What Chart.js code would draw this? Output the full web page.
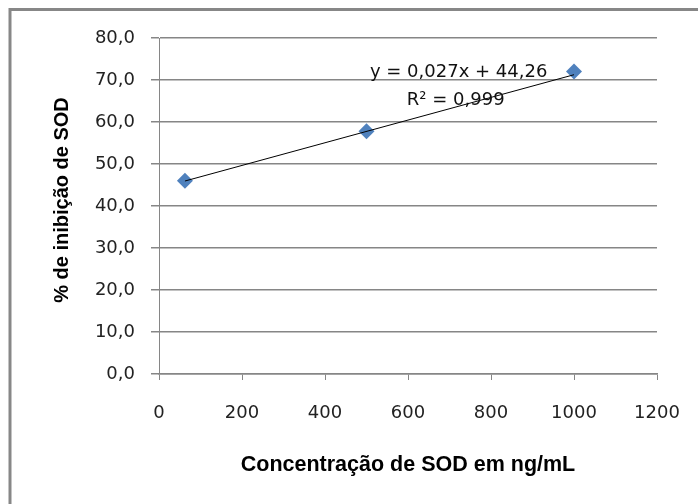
<!DOCTYPE html>
<html>
<head>
<meta charset="utf-8">
<script src="https://cdn.jsdelivr.net/npm/chart.js@4"></script>
<style>
html,body{margin:0;padding:0;background:#fff;}
#wrap{width:698px;height:504px;position:relative;}
</style>
</head>
<body>
<div id="wrap"><canvas id="c" width="698" height="504"></canvas></div>
<script>
const concentrations = [62.5, 500, 1000];
const inhibition = [46.0, 57.8, 72.0];
const trendSlope = 0.027;
const trendIntercept = 44.26;
const equationText = "y = 0,027x + 44,26";
const r2Text = "R² = 0,999";
const xTitle = "Concentração de SOD em ng/mL";
const yTitle = "% de inibição de SOD";

const points = concentrations.map((x, i) => ({x: x, y: inhibition[i]}));
const xMin = Math.min(...concentrations), xMax = Math.max(...concentrations);
const trend = [xMin, xMax].map(x => ({x: x, y: trendSlope * x + trendIntercept}));

const GRID = '#868686';
const FONT = 'DejaVu Sans';

const framePlugin = {
  id: 'frame',
  beforeDraw(chart) {
    const ctx = chart.ctx;
    ctx.save();
    ctx.fillStyle = '#fff';
    ctx.fillRect(0, 0, chart.width, chart.height);
    ctx.strokeStyle = '#878787';
    ctx.lineWidth = 3;
    ctx.beginPath();
    ctx.moveTo(10, chart.height);
    ctx.lineTo(10, 9.5);
    ctx.lineTo(chart.width, 9.5);
    ctx.stroke();
    ctx.restore();
  },
  afterDraw(chart) {
    const ctx = chart.ctx;
    const ca = chart.chartArea;
    ctx.save();
    ctx.fillStyle = '#000';
    ctx.font = 'bold 20px "Liberation Sans"';
    ctx.textAlign = 'center';
    ctx.textBaseline = 'middle';
    ctx.translate(62, (ca.top + ca.bottom) / 2 - 6);
    ctx.rotate(-Math.PI / 2);
    ctx.fillText(yTitle, 0, 0);
    ctx.restore();
  },
  afterDatasetsDraw(chart) {
    const ctx = chart.ctx;
    const xs = chart.scales.x, ys = chart.scales.y;
    ctx.save();
    ctx.fillStyle = '#111';
    ctx.font = '18px "DejaVu Sans"';
    ctx.textAlign = 'center';
    ctx.textBaseline = 'middle';
    ctx.fillText(equationText, xs.getPixelForValue(722), ys.getPixelForValue(71.8));
    ctx.fillText(r2Text, xs.getPixelForValue(715), ys.getPixelForValue(65.2));
    ctx.restore();
  }
};

new Chart(document.getElementById('c'), {
  type: 'scatter',
  data: {
    datasets: [
      {
        label: 'trend',
        data: trend,
        showLine: true,
        borderColor: '#000',
        borderWidth: 1,
        pointRadius: 0,
        order: 1
      },
      {
        label: 'SOD',
        data: points,
        pointStyle: 'rectRot',
        pointRadius: 8,
        pointBackgroundColor: '#4F81BD',
        pointBorderColor: '#4F81BD',
        pointBorderWidth: 0,
        order: 2
      }
    ]
  },
  plugins: [framePlugin],
  options: {
    responsive: false,
    animation: false,
    devicePixelRatio: 1,
    layout: {padding: {left: 0, top: 38, right: 41, bottom: 0}},
    plugins: {legend: {display: false}, tooltip: {enabled: false}},
    scales: {
      x: {
        type: 'linear',
        min: 0, max: 1200,
        ticks: {stepSize: 200, color: '#222', padding: 23, font: {family: FONT, size: 18},
          callback: v => String(v)},
        grid: {drawOnChartArea: false, drawTicks: true, tickLength: 6, color: GRID, lineWidth: 1},
        border: {display: true, color: GRID, width: 1.5},
        title: {display: true, text: xTitle, color: '#000', padding: {top: 0, bottom: 26}, font: {family: 'Liberation Sans', size: 21.5, weight: 'bold'}},
        afterFit(s) { s.height = 130; s.paddingRight = 0; s.paddingLeft = 0; }
      },
      y: {
        type: 'linear',
        min: 0, max: 80,
        ticks: {stepSize: 10, color: '#222', padding: 16, font: {family: FONT, size: 18},
          callback: v => v.toFixed(1).replace('.', ',')},
        grid: {drawTicks: true, tickLength: 8, color: GRID, lineWidth: 1.5},
        border: {display: true, color: GRID, width: 1},
        title: {display: false, text: yTitle},
        afterFit(s) { s.width = 159; s.paddingTop = 0; s.paddingBottom = 0; }
      }
    }
  }
});
</script>
</body>
</html>
